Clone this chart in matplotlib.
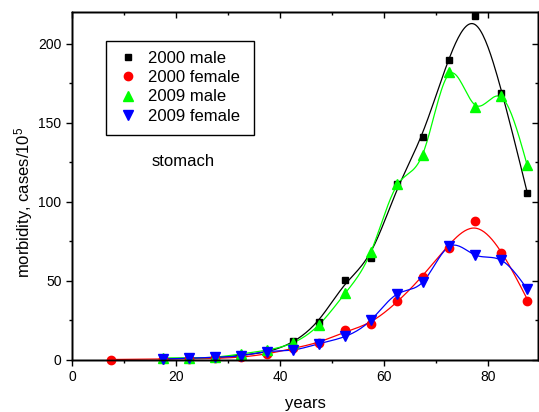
import numpy as np
import matplotlib
matplotlib.use("Agg")
import matplotlib.pyplot as plt
from matplotlib.patches import Rectangle
from matplotlib.ticker import MultipleLocator

plt.rcParams["font.family"] = ["Liberation Sans", "DejaVu Sans"]
plt.rcParams["mathtext.fontset"] = "custom"
plt.rcParams["mathtext.rm"] = "Liberation Sans"
plt.rcParams["mathtext.default"] = "regular"

# age group midpoints, years
ages = [17.5, 22.5, 27.5, 32.5, 37.5, 42.5, 47.5, 52.5, 57.5, 62.5, 67.5, 72.5, 77.5, 82.5, 87.5]
ages_f2000 = [7.5] + ages

# stomach cancer morbidity, cases per 10^5
male_2000 = [0.5, 0.8, 1.0, 3.0, 5.0, 11.5, 24.0, 50.5, 64.5, 111.0, 141.0, 189.5, 217.5, 168.5, 105.5]
female_2000 = [0.0, 0.3, 0.5, 0.8, 1.5, 3.5, 7.5, 10.3, 18.8, 22.6, 37.0, 52.5, 70.7, 88.0, 67.5, 37.0]
male_2009 = [1.0, 1.0, 1.5, 3.5, 6.0, 10.6, 22.0, 42.0, 68.0, 111.0, 129.5, 182.0, 160.0, 167.0, 123.0]
female_2009 = [0.3, 0.8, 1.4, 2.4, 5.0, 6.0, 10.0, 14.6, 25.0, 41.5, 49.0, 71.7, 66.0, 63.0, 44.7]


def smooth_curve(x, y, lam, step=0.25):
    """Penalised (second-difference) smoother on a fine grid through the points."""
    x = np.asarray(x, float)
    y = np.asarray(y, float)
    xs = np.arange(x[0], x[-1] + step / 2, step)
    n = len(xs)
    idx = np.rint((x - x[0]) / step).astype(int)
    w = np.zeros(n)
    z = np.zeros(n)
    w[idx] = 1.0
    z[idx] = y
    d = np.diff(np.eye(n), 2, axis=0)
    f = np.linalg.solve(np.diag(w) + lam * d.T @ d, w * z)
    return xs, f


series = [
    (ages, male_2000, "2000 male", "black", "s", 5.0, 320),
    (ages_f2000, female_2000, "2000 female", "red", "o", 6.0, 800),
    (ages, male_2009, "2009 male", "#00ff00", "^", 6.5, 20),
    (ages, female_2009, "2009 female", "blue", "v", 6.5, 10),
]

fig = plt.figure(figsize=(5.39, 4.12), dpi=100)
ax = fig.add_axes([72 / 539, 1 - 359.5 / 412, 466 / 539, 347.5 / 412])

for x, y, label, color, marker, ms, lam in series:
    xs, f = smooth_curve(x, y, lam)
    ax.plot(xs, f, color=color, lw=0.9, zorder=2)
for x, y, label, color, marker, ms, lam in series:
    ax.plot(x, y, ls="none", marker=marker, ms=ms, color=color,
            mec=color, label=label, clip_on=False, zorder=3)

XLIM, YLIM = (0, 89.6), (0, 220)


def set_ticks(a, direction):
    a.set_xlim(*XLIM)
    a.set_ylim(*YLIM)
    a.xaxis.set_major_locator(MultipleLocator(20))
    a.xaxis.set_minor_locator(MultipleLocator(10))
    a.yaxis.set_major_locator(MultipleLocator(50))
    a.yaxis.set_minor_locator(MultipleLocator(25))
    a.tick_params(which="major", length=4.5, width=1.0, direction=direction)
    a.tick_params(which="minor", length=2.5, width=1.0, direction=direction)
    for side in a.spines.values():
        side.set_linewidth(1.0)


set_ticks(ax, "out")
ax.tick_params(which="both", top=False, right=False, labelsize=10, pad=3)

# inward ticks on the top and right spines
top = ax.twiny()
set_ticks(top, "in")
top.tick_params(which="both", top=True, bottom=False, labeltop=False)
right = ax.twinx()
set_ticks(right, "in")
right.tick_params(which="both", right=True, left=False, labelright=False)

ax.set_xlabel("years", fontsize=12)
ax.set_ylabel("morbidity, cases/10$^5$", fontsize=12)
ax.xaxis.set_label_coords(0.502, -0.105)
ax.yaxis.set_label_coords(-0.079, 0.453)

ax.text(0.171, 0.569, "stomach", transform=ax.transAxes, fontsize=12,
        ha="left", va="center")

leg = right.legend(*ax.get_legend_handles_labels(), loc="upper left",
                   bbox_to_anchor=(0.073, 0.9165), bbox_transform=ax.transAxes,
                   borderaxespad=0, fontsize=12, numpoints=1, frameon=False,
                   handlelength=1.45, handletextpad=0.48, labelspacing=0.25,
                   borderpad=0.6)
right.add_patch(Rectangle((0.073, 0.646), 0.3177, 0.2705, transform=ax.transAxes,
                          fill=False, edgecolor="black", lw=1.0, zorder=5))

fig.savefig("out.png", dpi=100)
